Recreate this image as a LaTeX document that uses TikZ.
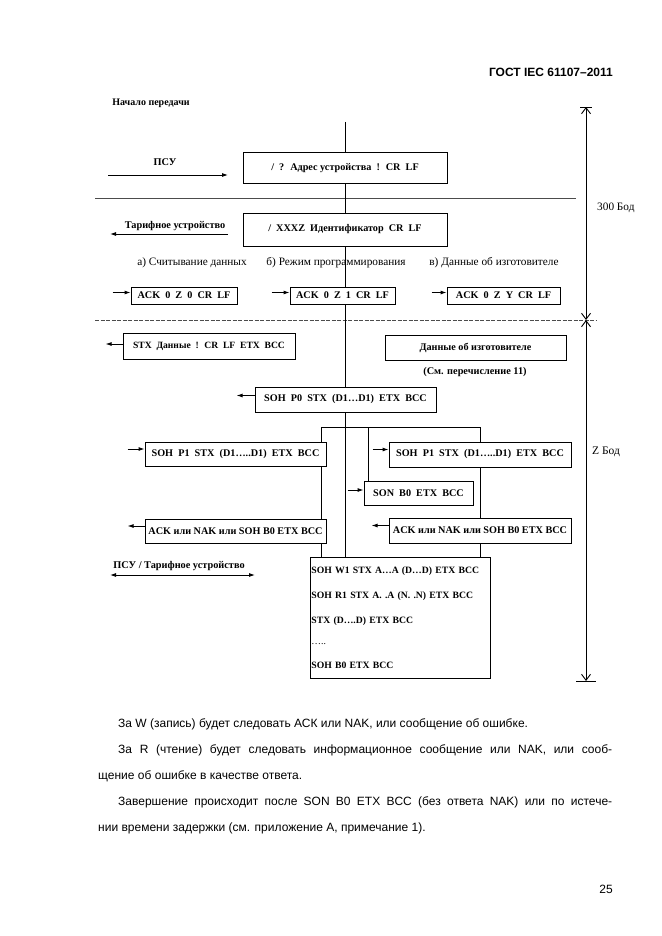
\documentclass[tikz,border=0pt]{standalone}
\usepackage{fontspec}
\setmainfont{Liberation Serif}
\newfontfamily\arialfont{Liberation Sans}
\usetikzlibrary{arrows.meta,positioning}

\begin{document}
\begin{tikzpicture}[x=1pt,y=-1pt,
    msg/.style={draw, fill=white, line width=0.9pt, inner sep=0pt,
      font=\fontsize{10.2}{12}\selectfont\bfseries},
    lbl/.style={inner sep=0pt, font=\fontsize{11.3}{13}\selectfont},
    blbl/.style={inner sep=0pt, font=\fontsize{10.3}{12}\selectfont\bfseries},
    txt/.style={anchor=base west, inner sep=0pt,
      font=\arialfont\fontsize{12}{15}\selectfont},
    tip/.style={-{Latex[length=6pt,width=4pt]}, line width=0.9pt},
    link/.style={line width=0.9pt},
    barb/.style={{Straight Barb[length=6pt,width=9pt]}-{Straight Barb[length=6pt,width=9pt]},
      line width=0.9pt}]
  \useasboundingbox (0,0) rectangle (661,936);

  % page head
  \node[anchor=base east, inner sep=0pt,
    font=\arialfont\bfseries\fontsize{12}{14}\selectfont] (head) at (613,77) {ГОСТ IEC 61107–2011};
  \node[blbl, font=\fontsize{10}{12}\selectfont\bfseries] (start) at (151,103) {Начало передачи};

  % separators
  \draw[line width=0.5pt, black!70] (95,198) -- (576,198);
  \draw[line width=0.6pt, black!70, dash pattern=on 4pt off 1.5pt] (95,320) -- (597,320);

  % 300 baud part
  \coordinate (top) at (345,122);
  \node[msg, minimum width=204pt, minimum height=31pt] (adr) at (345,168) {/~ ?~ Адрес устройства~ !~ CR~ LF};
  \node[msg, minimum width=204pt, minimum height=33pt] (ident) at (345,229.5) {/~ XXXZ~ Идентификатор~ CR~ LF};
  \node[blbl] (psu) at (165,162) {ПСУ};
  \node[blbl] (tu) at (175,226) {Тарифное устройство};
  \draw[tip] (108,175) -- (228,175);
  \draw[tip] (228,234) -- (110,234);

  \node[lbl] (capA) at (192,263) {а) Считывание данных};
  \node[lbl] (capB) at (336,263) {б) Режим программирования};
  \node[lbl] (capC) at (494,263) {в) Данные об изготовителе};

  \node[msg, minimum width=106pt, minimum height=17pt] (ackA) at (184,295.5) {ACK~ 0~ Z~ 0~ CR~ LF};
  \node[msg, minimum width=105pt, minimum height=17pt] (ackB) at (342.5,295.5) {ACK~ 0~ Z~ 1~ CR~ LF};
  \node[msg, minimum width=113pt, minimum height=17pt] (ackC) at (503.5,295.5) {ACK~ 0~ Z~ Y~ CR~ LF};
  \draw[tip] ([xshift=-18pt,yshift=3pt]ackA.west) -- ([yshift=3pt]ackA.west);
  \draw[tip] ([xshift=-18pt,yshift=3pt]ackB.west) -- ([yshift=3pt]ackB.west);
  \draw[tip] ([xshift=-15pt,yshift=3pt]ackC.west) -- ([yshift=3pt]ackC.west);

  % Z baud part
  \node[msg, minimum width=172pt, minimum height=26pt, font=\fontsize{9.6}{11}\selectfont\bfseries] (data) at (209,346) {STX~ Данные~ !~ CR~ LF~ ETX~ BCC};
  \node[msg, minimum width=181pt, minimum height=25pt] (maker) at (475.5,348) {Данные об изготовителе};
  \node[blbl] (see) at (475,372) {(См. перечисление 11)};
  \draw[tip] ([yshift=2pt]data.west) -- ([xshift=-17pt,yshift=2pt]data.west);

  \node[msg, minimum width=181pt, minimum height=25pt] (p0) at (345.5,399.5) {SOH~ P0~ STX~ (D1…D1)~ ETX~ BCC};
  \draw[tip] ([yshift=4pt]p0.west) -- ([xshift=-18pt,yshift=4pt]p0.west);

  \node[msg, minimum width=181pt, minimum height=24pt] (p1L) at (235.5,454) {SOH~ P1~ STX~ (D1…..D1)~ ETX~ BCC};
  \node[msg, minimum width=182pt, minimum height=25pt] (p1R) at (480,454.5) {SOH~ P1~ STX~ (D1…..D1)~ ETX~ BCC};
  \node[msg, minimum width=109pt, minimum height=24pt] (son) at (418.5,493) {SON~ B0~ ETX~ BCC};
  \node[msg, minimum width=181pt, minimum height=24pt] (ackL) at (235.5,531) {ACK или NAK или SOH B0 ETX BCC};
  \node[msg, minimum width=182pt, minimum height=25pt] (ackR) at (480,530.5) {ACK или NAK или SOH B0 ETX BCC};
  \draw[tip] ([xshift=-17pt,yshift=5pt]p1L.west) -- ([yshift=5pt]p1L.west);
  \draw[tip] ([xshift=-16pt,yshift=5pt]p1R.west) -- ([yshift=5pt]p1R.west);
  \draw[tip] ([xshift=-16pt,yshift=3pt]son.west) -- ([yshift=3pt]son.west);
  \draw[tip] ([yshift=5pt]ackL.west) -- ([xshift=-17pt,yshift=5pt]ackL.west);
  \draw[tip] ([yshift=5pt]ackR.west) -- ([xshift=-17pt,yshift=5pt]ackR.west);

  \node[msg, minimum width=180pt, minimum height=121pt, align=left, anchor=north west,
    text width=178pt, inner xsep=1pt, font=\fontsize{9.7}{25}\selectfont\bfseries] (last) at (310,557)
    {SOH W1 STX A…A (D…D) ETX BCC\\
     SOH R1 STX A.~.A (N.~.N) ETX BCC\\
     STX (D….D) ETX BCC\\[-4pt]
     {\mdseries …..}\\[-1pt]
     SOH B0 ETX BCC};
  \node[blbl] (both) at (179,566) {ПСУ / Тарифное устройство};
  \draw[line width=0.9pt, {Latex[length=6pt,width=4pt]}-{Latex[length=6pt,width=4pt]}] (110,575) -- (255,575);

  % links
  \draw[link] (top) -- (adr.north);
  \draw[link] (adr.south) -- (ident.north);
  \draw[link] (ident.south) -- (ident.south |- ackB.north);
  \draw[link] (ident.south |- ackB.south) -- (p0.north -| ident.south);
  \coordinate (forkL) at (321,427);
  \coordinate (forkS) at (368,427);
  \coordinate (forkR) at (480,427);
  \draw[link] (p0.south -| adr.south) -- (last.north -| adr.south);
  \draw[link] (forkL |- p1L.north) -- (forkL) -- (forkR) -- (p1R.north);
  \draw[link] (forkS) -- (forkS |- son.north);
  \draw[link] (forkL |- p1L.south) -- (forkL |- ackL.north);
  \draw[link] (forkL |- ackL.south) -- (forkL |- last.north);
  \draw[link] (p1R.south) -- (ackR.north);
  \draw[link] (ackR.south) -- (ackR.south |- last.north);

  % baud scale
  \coordinate (sTop) at (586,107);
  \coordinate (sMid) at (586,320);
  \coordinate (sBot) at (586,681);
  \draw[barb] (sTop) -- (sMid);
  \draw[barb] (sMid) -- (sBot);
  \draw[line width=0.9pt] ([xshift=-6pt]sTop) -- ([xshift=6pt]sTop);
  \draw[line width=0.9pt] ([xshift=-10pt]sBot) -- ([xshift=10pt]sBot);
  \node[lbl, anchor=west, font=\fontsize{11.3}{13}\selectfont] (fast) at (597,208) {300 Бод};
  \node[lbl, anchor=west, font=\fontsize{11.5}{13}\selectfont] (slow) at (592,452) {Z Бод};

  % notes below the diagram
  \node[txt] (n1) at (118,727) {За W (запись) будет следовать АСК или NAK, или сообщение об ошибке.};
  \node[txt] (n2) at (118,753) {\makebox[494pt][s]{За R (чтение) будет следовать информационное сообщение или NAK, или сооб-}};
  \node[txt] (n3) at (98,779) {щение об ошибке в качестве ответа.};
  \node[txt] (n4) at (118,805) {\makebox[494pt][s]{Завершение происходит после SON B0 ETX BCC (без ответа NAK) или по истече-}};
  \node[txt] (n5) at (98,831) {нии времени задержки (см. приложение А, примечание 1).};
  \node[anchor=base east, inner sep=0pt, font=\arialfont\fontsize{12}{15}\selectfont] (page) at (613,893) {25};
\end{tikzpicture}
\end{document}
